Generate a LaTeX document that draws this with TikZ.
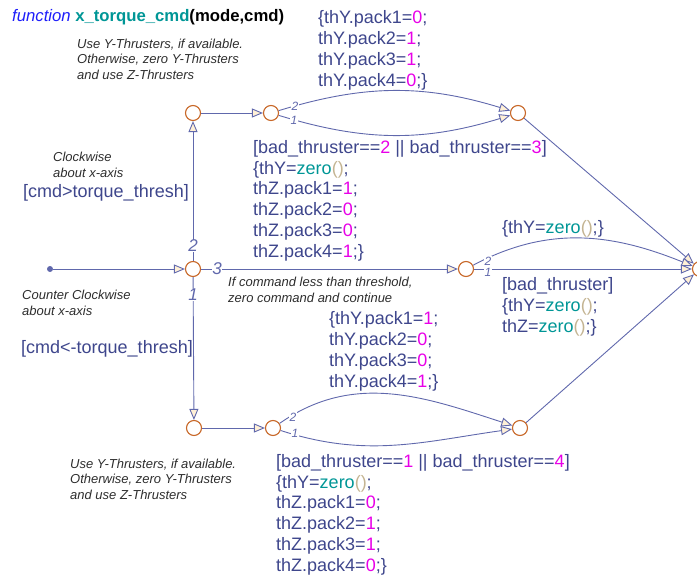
\documentclass[tikz,border=0pt]{standalone}
\usepackage{fontspec}
\setmainfont{Liberation Sans}
\usetikzlibrary{arrows.meta}

\definecolor{linecol}{RGB}{96,104,172}
\definecolor{codecol}{RGB}{62,70,140}
\definecolor{juncol}{RGB}{200,104,40}
\definecolor{tipcol}{RGB}{255,240,214}
\definecolor{numcol}{RGB}{232,0,232}
\definecolor{fncol}{RGB}{0,150,150}
\definecolor{parcol}{RGB}{196,180,146}
\definecolor{notecol}{RGB}{45,45,45}
\definecolor{kwcol}{RGB}{30,30,250}

\newcommand{\numval}[1]{\textcolor{numcol}{#1}}
\newcommand{\zerocall}{\textcolor{fncol}{zero}\textcolor{parcol}{()}}

\begin{document}
\begin{tikzpicture}[x=1pt, y=1pt,
    junction/.style={circle, draw=juncol, fill=white, line width=1.1pt, minimum size=15pt, inner sep=0pt},
    dot/.style={circle, fill=linecol, minimum size=6pt, inner sep=0pt},
    flow/.style={draw=linecol, line width=0.9pt, -{Triangle[length=11pt, width=9pt, fill=tipcol]}},
    code/.style={text=codecol, align=left, anchor=base west, inner sep=0pt, font=\fontsize{18}{20.7}\selectfont},
    note/.style={text=notecol, align=left, anchor=base west, inner sep=0pt, font=\itshape\fontsize{13}{15.8}\selectfont},
    ord/.style={text=linecol, fill=white, inner sep=0.5pt, font=\itshape\fontsize{17}{17}\selectfont},
    small ord/.style={ord, font=\itshape\fontsize{12}{12}\selectfont}]
    \useasboundingbox (0,0) rectangle (697,-581);
    \clip (0,0) rectangle (697,-581);
    \node[anchor=base west, inner sep=0pt, font=\fontsize{16.7}{17}\selectfont] (title) at (12,-21)
        {\textcolor{kwcol}{\itshape function} \textcolor{fncol}{\bfseries x\_torque\_cmd}\textbf{(mode,cmd)}};
    % junctions
    \node[dot] (0) at (50,-269) {}; % default transition
    \node[junction] (1) at (193,-269) {};
    \node[junction] (2) at (193,-113) {};
    \node[junction] (3) at (271,-113) {};
    \node[junction] (4) at (518,-113) {};
    \node[junction] (5) at (466,-269) {};
    \node[junction] (6) at (194,-428) {};
    \node[junction] (7) at (273,-428) {};
    \node[junction] (8) at (520,-428) {};
    \node[junction] (9) at (700,-269) {}; % exit
    \draw [flow] (0) to (1);
    \draw [flow] (1) to (2);
    \draw [flow] (1) to (5);
    \draw [flow] (1) to (6);
    % clockwise
    \draw [flow] (2) to (3);
    \draw [flow] (3) to[out=17, in=163] (4);
    \draw [flow] (3) to[out=-17, in=-163] (4);
    \draw [flow] (4) to (9);
    % below threshold
    \draw [flow] (5) to[out=28, in=158] (9);
    \draw [flow] (5) to (9);
    % counter clockwise
    \draw [flow] (6) to (7);
    \draw [flow] (7) to[out=35, in=162] (8);
    \draw [flow] (7) to[out=-18, in=-172] (8);
    \draw [flow] (8) to (9);
    % execution order
    \node[ord] (o1) at (193,-246) {2};
    \node[ord] (o2) at (193,-295) {1};
    \node[ord] (o3) at (217,-269) {3};
    \node[small ord] (o4) at (295,-106) {2};
    \node[small ord] (o5) at (294,-120) {1};
    \node[small ord] (o6) at (488,-261) {2};
    \node[small ord] (o7) at (488,-272) {1};
    \node[small ord] (o8) at (293,-417) {2};
    \node[small ord] (o9) at (295,-433) {1};
    % comments (placed at the last baseline)
    \node[note] (n1) at (77,-79.6) {Use Y-Thrusters, if available.\\Otherwise, zero Y-Thrusters\\and use Z-Thrusters};
    \node[note] (n2) at (53,-177.5) {Clockwise\\about x-axis};
    \node[note] (n3) at (22,-315) {Counter Clockwise\\about x-axis};
    \node[note] (n4) at (228,-302) {If command less than threshold,\\zero command and continue};
    \node[note] (n5) at (70,-499.6) {Use Y-Thrusters, if available.\\Otherwise, zero Y-Thrusters\\and use Z-Thrusters};
    % conditions and actions
    \node[code] (g1) at (23,-197) {[cmd>torque\_thresh]};
    \node[code] (g2) at (21,-353) {[cmd<-torque\_thresh]};
    \node[code] (a1) at (318,-86) {\{thY.pack1=\numval{0};\\thY.pack2=\numval{1};\\thY.pack3=\numval{1};\\thY.pack4=\numval{0};\}};
    \node[code] (a2) at (253,-257) {[bad\_thruster==\numval{2} || bad\_thruster==\numval{3}]\\\{thY=\zerocall;\\thZ.pack1=\numval{1};\\thZ.pack2=\numval{0};\\thZ.pack3=\numval{0};\\thZ.pack4=\numval{1};\}};
    \node[code] (a3) at (329,-387) {\{thY.pack1=\numval{1};\\thY.pack2=\numval{0};\\thY.pack3=\numval{0};\\thY.pack4=\numval{1};\}};
    \node[code] (a4) at (502,-233) {\{thY=\zerocall;\}};
    \node[code] (a5) at (502,-332) {[bad\_thruster]\\\{thY=\zerocall;\\thZ=\zerocall;\}};
    \node[code] (a6) at (276,-571) {[bad\_thruster==\numval{1} || bad\_thruster==\numval{4}]\\\{thY=\zerocall;\\thZ.pack1=\numval{0};\\thZ.pack2=\numval{1};\\thZ.pack3=\numval{1};\\thZ.pack4=\numval{0};\}};
\end{tikzpicture}
\end{document}
